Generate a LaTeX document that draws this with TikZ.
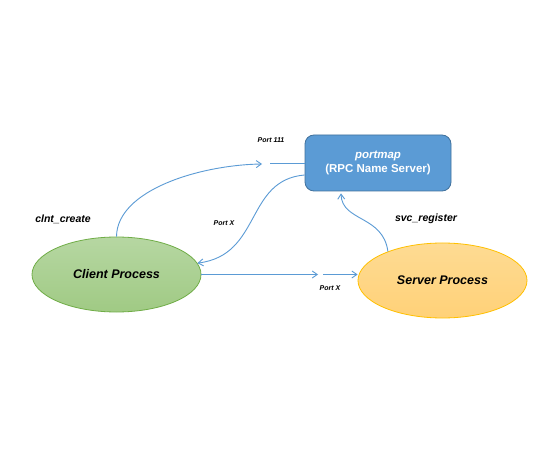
\documentclass[tikz,border=0pt]{standalone}
\usepackage{fontspec}
\setmainfont{Liberation Sans}
\usetikzlibrary{arrows.meta}
\definecolor{arrowblue}{HTML}{5B9BD5}
\definecolor{boxblue}{HTML}{5B9BD5}
\definecolor{boxedge}{HTML}{41719C}
\definecolor{greentop}{HTML}{B6D7A2}
\definecolor{greenbot}{HTML}{A0CA84}
\definecolor{greenedge}{HTML}{70AD47}
\definecolor{orangetop}{HTML}{FEDB93}
\definecolor{orangebot}{HTML}{FFD178}
\definecolor{orangeedge}{HTML}{FFC000}
\tikzset{
  proc/.style={ellipse, minimum width=169pt, minimum height=75pt, inner sep=0pt,
    font=\fontsize{12.5}{14}\selectfont\bfseries\itshape},
  conn/.style={draw=arrowblue, line width=0.9pt, -{Straight Barb[length=5pt,width=7pt]}},
  plain/.style={draw=arrowblue, line width=0.9pt},
  lab/.style={font=\fontsize{10.5}{12}\selectfont\bfseries\itshape},
  small/.style={font=\fontsize{7}{8}\selectfont\bfseries\itshape}
}
\usetikzlibrary{shapes.geometric}
\begin{document}
\begin{tikzpicture}[x=1pt,y=-1pt]
\useasboundingbox[fill=white] (0,0) rectangle (538,462);
\node[draw=boxedge, line width=0.8pt, fill=boxblue, rounded corners=9pt,
  minimum width=146pt, minimum height=56pt, inner sep=0pt, text=white, align=center,
  font=\fontsize{11.5}{14}\selectfont\bfseries] (box) at (378,163)
  {\itshape portmap\\(RPC Name Server)};
\node[proc, draw=greenedge, line width=0.8pt, top color=greentop, bottom color=greenbot] (client) at (116.5,274.5) {Client Process};
\node[proc, draw=orangeedge, line width=0.8pt, top color=orangetop, bottom color=orangebot] (server) at (442.5,280.5) {Server Process};

\coordinate (p1) at (262,164);
\coordinate (p1b) at (270,163.5);
\coordinate (p3) at (318,274.5);
\coordinate (p3b) at (323,274.5);

\draw[conn] (client.north) .. controls (117,190) and (200,165) .. (p1);
\draw[plain] (p1b) -- (p1b -| box.west);
\draw[conn] ([yshift=-12pt]box.west) .. controls (245,180) and (262,255) .. (client.8);
\draw[conn] (client.east) -- (p3);
\draw[conn] (p3b) -- (p3b -| server.west);
\draw[conn] (server.152) .. controls (383,215) and (342,222) .. ([xshift=-37pt,yshift=-2pt]box.south);

\node[small] (l111) at (271,140) {Port 111};
\node[small] (lx1) at (224,223) {Port X};
\node[small] (lx2) at (330,288) {Port X};
\node[lab] (lc) at (63,219) {clnt\_create};
\node[lab] (ls) at (426,219) {svc\_register};
\end{tikzpicture}
\end{document}
